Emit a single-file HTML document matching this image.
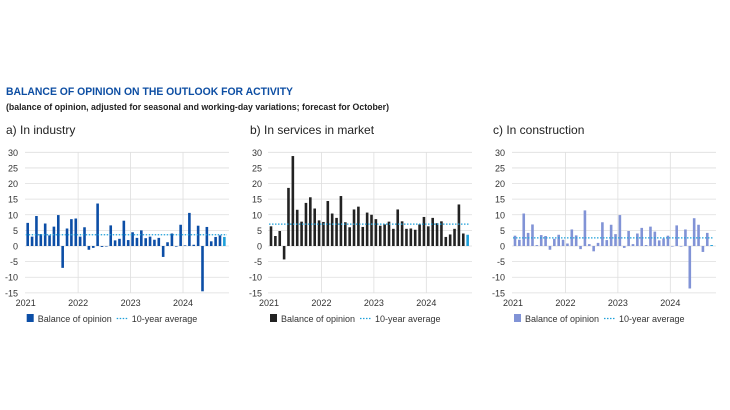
<!DOCTYPE html>
<html><head><meta charset="utf-8"><style>
body{margin:0;background:#fff;}
svg{display:block;font-family:"Liberation Sans",sans-serif;}
</style></head><body>
<svg id="c" width="730" height="410" viewBox="0 0 730 410">
<text x="6" y="95" font-size="11" font-weight="bold" fill="#0d4ea3" textLength="287" lengthAdjust="spacingAndGlyphs">BALANCE OF OPINION ON THE OUTLOOK FOR ACTIVITY</text>
<text x="6" y="110" font-size="9" font-weight="bold" fill="#222" textLength="383" lengthAdjust="spacingAndGlyphs">(balance of opinion, adjusted for seasonal and working-day variations; forecast for October)</text>
</svg>
<script>
const months = 46;
const yTicks = [30,25,20,15,10,5,0,-5,-10,-15];
const yearLabels = ["2021","2022","2023","2024"];
const industryValues = [7.4,3,9.6,3.8,7.2,3.4,6.2,9.9,-7,5.6,8.6,8.8,3,6,-1.2,-0.6,13.6,-0.3,0,6.6,1.8,2.3,8.1,1.9,4.4,2.6,5,2.5,3,2,2.6,-3.5,1.2,4,-0.2,6.8,0.2,10.6,0.4,6.5,-14.5,6.1,1.5,2.9,3.4,2.9];
const servicesValues = [6.3,3.2,4.8,-4.3,18.6,28.8,11.6,7.8,13.8,15.6,12,8.2,7.7,14.4,10.4,9,16,7.6,6,11.7,12.6,6.1,10.7,10,8.6,6.5,6.9,7.8,5.5,11.7,7.9,5.5,5.6,5.2,6.9,9.3,6.3,9,7.3,7.9,2.9,3.7,5.5,13.3,4,3.6];
const constructionValues = [3.3,2,10.4,4.2,6.9,0.3,3.5,3.2,-1.2,2.3,3.6,2,0.8,5.3,3.4,-1,11.4,0.6,-1.7,1,7.6,1.9,6.8,3.8,9.9,-0.6,4.8,0.6,4,5.8,0.3,6.2,4.6,1.8,2.4,3.3,-0.2,6.6,-0.2,5.3,-13.6,8.9,6.8,-1.9,4.2,0.3];
const averages = [3.6, 7.0, 2.6];
const panelTitles = ["a)  In industry","b)  In services in market","c)  In construction"];
const legendLabels = ["Balance of opinion","10-year average"];

const NS="http://www.w3.org/2000/svg";
const svg=document.getElementById('c');
function mk(tag,attrs,parent){const e=document.createElementNS(NS,tag);for(const k in attrs)e.setAttribute(k,attrs[k]);(parent||svg).appendChild(e);return e;}

const panels=[
 {x0:27.7,ox:6,labX:18,left:25,right:229,values:industryValues,color:"#0c4ea6",name:"industry"},
 {x0:271,ox:250,labX:262,left:268,right:472,values:servicesValues,color:"#222222",name:"services"},
 {x0:515,ox:493,labX:505,left:512,right:716,values:constructionValues,color:"#8193d6",name:"construction"}
];
const step=4.37;
function yS(v){return 246 - v*(93.7/30);}

panels.forEach((p,pi)=>{
  const g=mk('g',{});
  
  
  const t=mk('text',{x:p.ox,y:134,'font-size':12,fill:'#222'},g);
  
  
  t.textContent=panelTitles[pi];
  yTicks.forEach(v=>{
    const gl=mk('line',{x1:p.left,x2:p.right,y1:yS(v),y2:yS(v),stroke:'#dedede','stroke-width':0.8},g);
    
    
    const tl=mk('text',{x:p.labX,y:yS(v)+3.5,'font-size':9,fill:'#333','text-anchor':'end'},g);
    
    
    tl.textContent=v;
  });
  yearLabels.forEach((yl,i)=>{
    const xm=p.x0-2+i*12*step;
    if(i>0){
      const vl=mk('line',{x1:xm,x2:xm,y1:yS(30),y2:yS(-15),stroke:'#dedede','stroke-width':0.8},g);
      
      
    }
    const xl=mk('text',{x:xm,y:306,'font-size':9,fill:'#333','text-anchor':'middle'},g);
    
    
    xl.textContent=yl;
  });
  p.values.forEach((v,i)=>{
    const x=p.x0+i*step;
    const last=i===p.values.length-1;
    const r=mk('rect',{x:x-1.3,width:2.6,y:Math.min(yS(v),yS(0)),height:Math.max(0.5,Math.abs(yS(v)-yS(0))),fill:last?'#1fa0da':p.color},g);
    
    
  });
  const av=mk('line',{x1:p.x0-2,x2:p.right-2,y1:yS(averages[pi]),y2:yS(averages[pi]),stroke:'#1fa0da','stroke-width':1.3,'stroke-dasharray':'1.5 1.5'},g);
  
  
  // legend
  const lx=p.x0-1;
  const sw=mk('rect',{x:lx,y:314,width:7,height:8,fill:p.color},g);
  
  
  const l1=mk('text',{x:lx+11,y:322,'font-size':9,fill:'#333'},g);
  
  
  l1.textContent=legendLabels[0];
  const ll=mk('line',{x1:lx+90,x2:lx+101,y1:318.5,y2:318.5,stroke:'#1fa0da','stroke-width':1.3,'stroke-dasharray':'1.5 1.5'},g);
  
  
  const l2=mk('text',{x:lx+105,y:322,'font-size':9,fill:'#333'},g);
  
  
  l2.textContent=legendLabels[1];
});
</script>
</body></html>
